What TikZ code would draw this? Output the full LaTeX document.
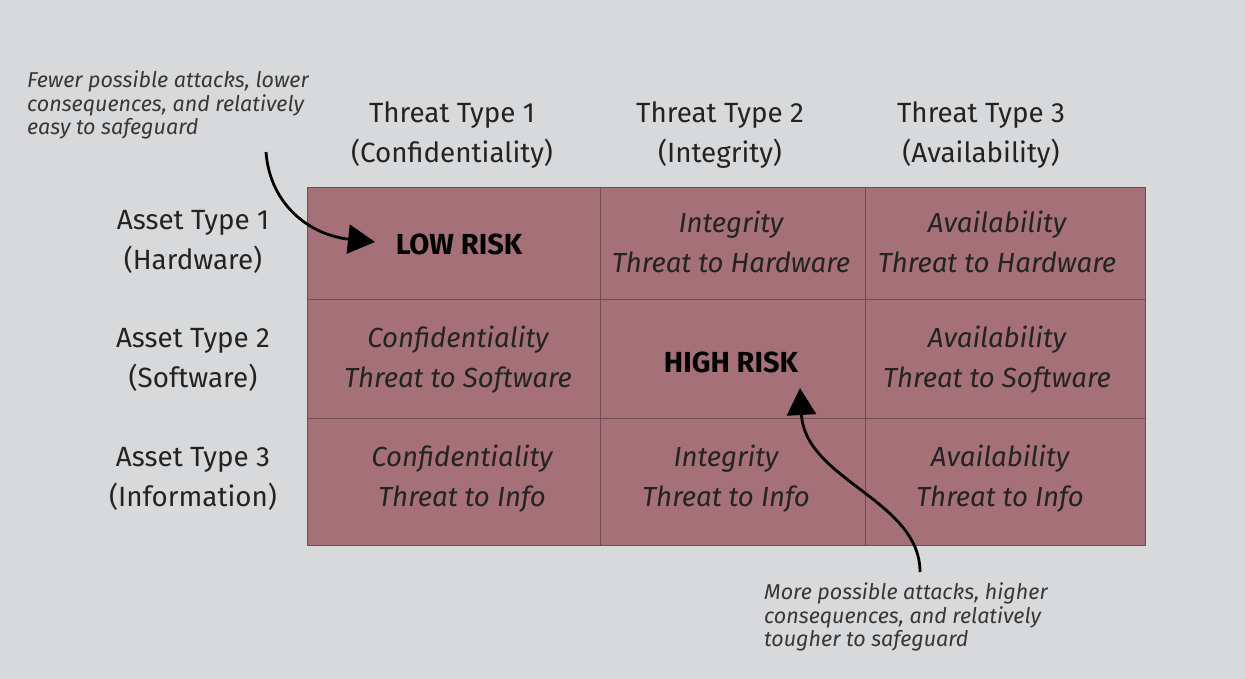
\documentclass[tikz,border=0pt]{standalone}
\usepackage{fontspec}
\setmainfont{Fira Sans}
\usetikzlibrary{arrows.meta}

\definecolor{bggray}{RGB}{216,217,219}
\definecolor{cellred}{RGB}{165,112,119}
\definecolor{gridline}{RGB}{112,76,82}
\definecolor{inkgray}{RGB}{35,35,35}
\definecolor{notegray}{RGB}{55,55,55}

\tikzset{
  header/.style={align=center, inner sep=0pt, text=inkgray, font=\fontsize{27.8}{40}\selectfont},
  celltext/.style={align=center, inner sep=0pt, text=inkgray, font=\fontsize{27.6}{40}\selectfont\itshape},
  risklabel/.style={inner sep=0pt, text=black, font=\fontsize{29}{32}\selectfont\bfseries},
  notetext/.style={align=left, anchor=west, inner sep=0pt, text=notegray, font=\fontsize{21.5}{23.5}\selectfont\itshape},
  pointer/.style={line width=2.8pt, -{Triangle[length=27pt,width=29pt]}},
}

\begin{document}
\begin{tikzpicture}[x=1pt,y=1pt,yscale=-1,xscale=1]
%background
\fill [bggray] (0,0) rectangle (1245,679);
\useasboundingbox (0,0) rectangle (1245,679);

%Shape: grid
\fill [cellred] (307,187) rectangle (1145,545);
\draw [gridline, line width=0.8pt] (307,187) rectangle (1145,545);
\draw [gridline, line width=0.8pt] (600,187) -- (600,545);
\draw [gridline, line width=0.8pt] (865,187) -- (865,545);
\draw [gridline, line width=0.8pt] (307,299) -- (1145,299);
\draw [gridline, line width=0.8pt] (307,418) -- (1145,418);

% Column headers
\node [header] (threat1) at (452,135) {Threat Type 1\\(Confidentiality)};
\node [header] (threat2) at (720,135) {Threat Type 2\\(Integrity)};
\node [header] (threat3) at (981,135) {Threat Type 3\\(Availability)};

% Row headers
\node [header] (asset1) at (193,242) {Asset Type 1\\(Hardware)};
\node [header] (asset2) at (193,360) {Asset Type 2\\(Software)};
\node [header] (asset3) at (193,479) {Asset Type 3\\(Information)};

% Cells
\node [risklabel] (lowrisk) at (459,244) {LOW RISK};
\node [celltext] (inthw) at (731,242) {Integrity\\Threat to Hardware};
\node [celltext] (avahw) at (997,242) {Availability\\Threat to Hardware};
\node [celltext] (confsw) at (458,360) {Confidentiality\\Threat to Software};
\node [risklabel] (highrisk) at (731,362) {HIGH RISK};
\node [celltext] (avasw) at (997,360) {Availability\\Threat to Software};
\node [celltext] (confinfo) at (462,479) {Confidentiality\\Threat to Info};
\node [celltext] (intinfo) at (726,479) {Integrity\\Threat to Info};
\node [celltext] (avainfo) at (1000,479) {Availability\\Threat to Info};

% Notes
\node [notetext] (lownote) at (27,105) {Fewer possible attacks, lower\\consequences, and relatively\\easy to safeguard};
\node [notetext] (highnote) at (764,617) {More possible attacks, higher\\consequences, and relatively\\tougher to safeguard};

% Pointers
\coordinate (lowtail) at (266,152);
\coordinate (lowtip) at (375,242);
\coordinate (hightail) at (920,572);
\coordinate (hightip) at (800,388);
\draw [pointer] (lowtail) .. controls (270,205) and (310,235) .. (lowtip);
\draw [pointer] (hightail) .. controls (920,500) and (805,480) .. (hightip);

\end{tikzpicture}
\end{document}
